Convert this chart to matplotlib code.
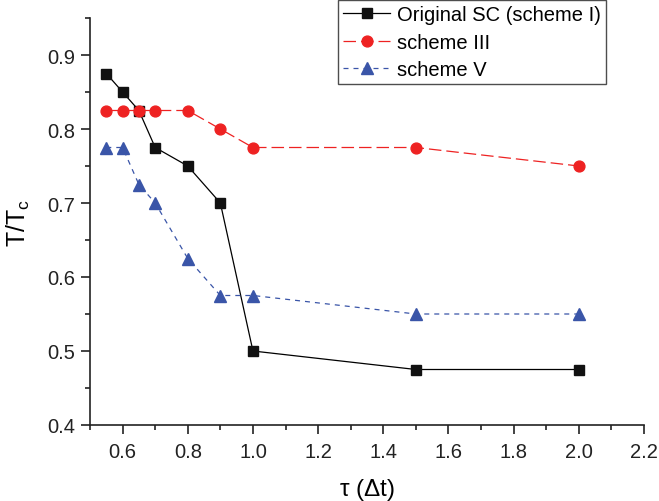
import matplotlib
matplotlib.use("Agg")
import matplotlib.pyplot as plt
from matplotlib.ticker import MultipleLocator

plt.rcParams['font.family'] = ['Liberation Sans', 'DejaVu Sans']

tau = [0.55, 0.6, 0.65, 0.7, 0.8, 0.9, 1.0, 1.5, 2.0]
scheme1 = [0.875, 0.85, 0.825, 0.775, 0.75, 0.7, 0.5, 0.475, 0.475]
scheme3 = [0.825, 0.825, 0.825, 0.825, 0.825, 0.8, 0.775, 0.775, 0.75]
scheme5 = [0.775, 0.775, 0.725, 0.7, 0.625, 0.575, 0.575, 0.55, 0.55]
xticks = [0.6, 0.8, 1.0, 1.2, 1.4, 1.6, 1.8, 2.0, 2.2]
yticks = [0.4, 0.5, 0.6, 0.7, 0.8, 0.9]

fig = plt.figure(figsize=(6.59, 5.02), dpi=100)
ax = fig.add_axes([90 / 659, 1 - 426 / 502, 554 / 659, 407 / 502])

ax.plot(tau, scheme1, color='black', lw=0.9, marker='s', ms=6.5, mfc='#111111', mec='#111111',
        label='Original SC (scheme I)')
ax.plot(tau, scheme3, color='#ee2222', lw=0.9, dashes=(10, 4), marker='o', ms=7.8, mfc='#ee2222',
        mec='#ee2222', label='scheme III')
ax.plot(tau, scheme5, color='#3a55a8', lw=0.9, dashes=(4, 4), marker='^', ms=8.5, mfc='#3a55a8',
        mec='#3a55a8', label='scheme V')

ax.set_xlim(0.5, 2.2)
ax.set_ylim(0.4, 0.95)
ax.xaxis.set_minor_locator(MultipleLocator(0.1))
ax.yaxis.set_minor_locator(MultipleLocator(0.05))
ax.set_xticks(xticks)
ax.set_xticklabels([f'{v:.1f}' for v in xticks])
ax.set_yticks(yticks)
ax.set_yticklabels([f'{v:.1f}' for v in yticks])

for s in ['top', 'right']:
    ax.spines[s].set_visible(False)
for s in ['left', 'bottom']:
    ax.spines[s].set_linewidth(1.2)
    ax.spines[s].set_color('#222222')
ax.tick_params(which='major', direction='out', length=6.5, width=1.2, labelsize=14.5, colors='#222222')
ax.tick_params(which='minor', direction='out', length=3.6, width=1.2, colors='#222222')
ax.tick_params(axis='x', which='major', pad=5.5)
ax.tick_params(axis='y', which='major', pad=4)

ax.set_xlabel(r'$\mathregular{\tau}$ ($\mathregular{\Delta}$t)', fontsize=17.5, labelpad=11)
ax.set_ylabel(r'T/T$_\mathregular{c}$', fontsize=18, labelpad=11)

leg = ax.legend(loc='upper right', bbox_to_anchor=(0.931, 1.044), fontsize=14.5, frameon=True,
                fancybox=False, edgecolor='#222222', borderpad=0.25, labelspacing=0.42,
                handlelength=2.3, handletextpad=0.35, borderaxespad=0)
leg.get_frame().set_linewidth(1.0)

fig.savefig('out.png', dpi=100)
